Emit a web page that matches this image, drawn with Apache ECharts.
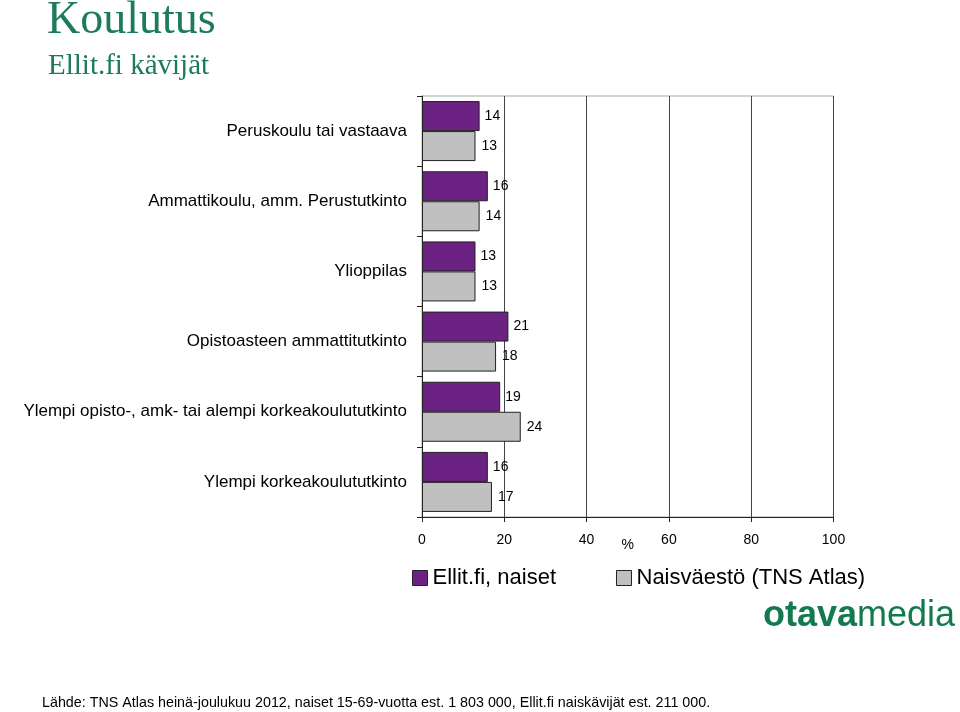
<!DOCTYPE html>
<html>
<head>
<meta charset="utf-8">
<script src="https://cdn.jsdelivr.net/npm/echarts@6/dist/echarts.min.js"></script>
<style>
html,body{margin:0;padding:0;background:#fff;}
#chart{width:960px;height:712px;}
</style>
</head>
<body>
<div id="chart"></div>
<script>
var categories = [
  'Peruskoulu tai vastaava',
  'Ammattikoulu, amm. Perustutkinto',
  'Ylioppilas',
  'Opistoasteen ammattitutkinto',
  'Ylempi opisto-, amk- tai alempi korkeakoulututkinto',
  'Ylempi korkeakoulututkinto'
];
var seriesNames = ['Ellit.fi, naiset', 'Naisväestö (TNS Atlas)'];
var ellitValues = [14, 16, 13, 21, 19, 16];
var naisValues = [13, 14, 13, 18, 24, 17];
var xTicks = [0, 20, 40, 60, 80, 100];

var green = '#1b7b5a';
var chart = echarts.init(document.getElementById('chart'), null, {renderer: 'canvas'});
var sans = '"Liberation Sans", Arial, sans-serif';

var option = {
  backgroundColor: '#ffffff',
  animation: false,
  title: [
    {text: 'Koulutus', left: 47, top: -2, padding: 0,
     textStyle: {fontFamily: '"Liberation Serif", serif', fontSize: 46, fontWeight: 'normal', color: green}},
    {text: 'Ellit.fi kävijät', left: 48, top: 52, padding: 0,
     textStyle: {fontFamily: '"Liberation Serif", serif', fontSize: 29, fontWeight: 'normal', color: green}},
    {text: 'Lähde: TNS Atlas heinä-joulukuu 2012, naiset 15-69-vuotta est. 1 803 000, Ellit.fi naiskävijät est. 211 000.',
     left: 42, top: 696, padding: 0,
     textStyle: {fontFamily: '"Liberation Sans Narrow", "Liberation Sans", Arial, sans-serif', fontSize: 14.3, fontWeight: 'normal', color: '#000'}}
  ],
  legend: {
    left: 412, top: 567, padding: 0,
    itemWidth: 15, itemHeight: 15, itemGap: 60,
    icon: 'rect',
    itemStyle: {borderColor: '#222', borderWidth: 1},
    textStyle: {fontFamily: sans, fontSize: 22, color: '#000'},
    data: seriesNames
  },
  grid: {
    left: 422, right: 126.5, top: 96, bottom: 195,
    show: true, borderColor: '#aaaaaa', borderWidth: 1, backgroundColor: 'transparent'
  },
  xAxis: {
    type: 'value', min: xTicks[0], max: xTicks[xTicks.length - 1], interval: 20,
    name: '%', nameLocation: 'middle', nameGap: 21, nameMoveOverlap: false,
    nameTextStyle: {fontFamily: sans, fontSize: 14, color: '#000'},
    axisLine: {show: true, lineStyle: {color: '#222', width: 1}},
    axisTick: {show: true, length: 5, lineStyle: {color: '#222'}},
    axisLabel: {fontFamily: sans, fontSize: 14, color: '#000', margin: 16},
    splitLine: {show: true, lineStyle: {color: '#444', width: 1}}
  },
  yAxis: {
    type: 'category', data: categories, inverse: true,
    axisLine: {show: true, lineStyle: {color: '#222', width: 1}},
    axisTick: {show: true, length: 5, lineStyle: {color: '#222'}},
    axisLabel: {fontFamily: sans, fontSize: 17, color: '#000', margin: 15},
    splitLine: {show: false}
  },
  series: [
    {
      name: seriesNames[0], type: 'bar', data: ellitValues,
      barWidth: 30, barGap: '0%',
      itemStyle: {color: '#6c2283', borderColor: '#222', borderWidth: 1},
      label: {show: true, position: 'right', distance: 5, fontFamily: sans, fontSize: 14, color: '#000'}
    },
    {
      name: seriesNames[1], type: 'bar', data: naisValues,
      barWidth: 30, barGap: '0%',
      itemStyle: {color: '#c0c0c0', borderColor: '#222', borderWidth: 1},
      label: {show: true, position: 'right', distance: 6, fontFamily: sans, fontSize: 14, color: '#000'}
    }
  ],
  graphic: [
    {
      type: 'text', left: 763, top: 598,
      style: {
        text: '{b|otava}{r|media}',
        rich: {
          b: {fontFamily: sans, fontSize: 36, fontWeight: 'bold', fill: '#137a4f', color: '#137a4f'},
          r: {fontFamily: sans, fontSize: 36, fontWeight: 'normal', fill: '#137a4f', color: '#137a4f'}
        }
      }
    }
  ]
};
chart.setOption(option);
</script>
</body>
</html>
